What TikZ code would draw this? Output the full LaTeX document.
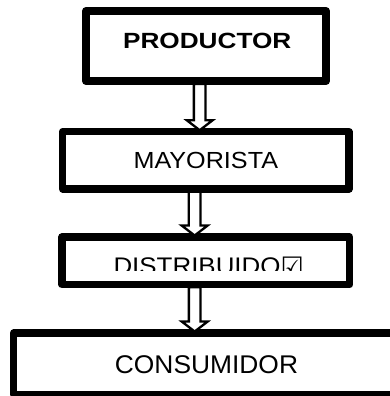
\documentclass[tikz,border=0pt]{standalone}
\usepackage{fontspec}
\setmainfont{Liberation Sans}
\newfontfamily\dejavu{DejaVu Sans}
\usetikzlibrary{calc}
\tikzset{
  box/.style={draw=black, fill=white, line join=round, inner sep=0pt, line width=7.4pt},
  lbl/.style={inner sep=0pt, text=black},
  hollow/.style={draw=black, fill=white, line width=2.3pt, line join=miter}
}
\newcommand\hollowarrow[3]{%
  \filldraw[hollow] let \p1=(#1.south), \p2=(#2.north) in
    ({\x1+#3-5.85pt},{\y1+1pt}) -- ({\x1+#3-5.85pt},{\y2+7.8pt})
    -- ({\x1+#3-13pt},{\y2+7.8pt}) -- ({\x1+#3},{\y2-2.2pt})
    -- ({\x1+#3+13pt},{\y2+7.8pt}) -- ({\x1+#3+5.85pt},{\y2+7.8pt})
    -- ({\x1+#3+5.85pt},{\y1+1pt}) -- cycle;}
\begin{document}
\begin{tikzpicture}[x=1pt,y=-1pt]
\useasboundingbox (0,0) rectangle (389,396);
% boxes
\node[box, line width=8pt, minimum width=240pt, minimum height=70pt] (p) at (206,46) {};
\node[box, minimum width=286.3pt, minimum height=57.3pt] (m) at (205.85,160.35) {};
\node[box, minimum width=287.6pt, minimum height=47.6pt] (d) at (205.8,260.8) {};
\node[box, minimum width=384.6pt, minimum height=61.3pt] (c) at (206,363.65) {};
% labels
\node[lbl, anchor=base] (pt) at (207.2,48.3) {\scalebox{1.19}[1]{\fontsize{22}{26}\selectfont\bfseries PRODUCTOR}};
\node[lbl, anchor=base] (mt) at (205.8,168.3) {\scalebox{1.08}[1]{\fontsize{23.3}{28}\selectfont MAYORISTA}};
\begin{scope}
  \clip (0,240.7) rectangle (389,270.7);
  \node[lbl, anchor=base west] (dt) at (113.3,274.5) {\scalebox{1.08}[1]{\fontsize{24}{28}\selectfont DISTRIBUIDO{\dejavu ☑}}};
\end{scope}
\node[lbl, anchor=base] (ct) at (206.5,373.3) {\scalebox{1.03}[1]{\fontsize{25.6}{30}\selectfont CONSUMIDOR}};
% arrows
\hollowarrow{p}{m}{-6.3pt}
\hollowarrow{m}{d}{-11.2pt}
\hollowarrow{d}{c}{-11.1pt}
\end{tikzpicture}
\end{document}
